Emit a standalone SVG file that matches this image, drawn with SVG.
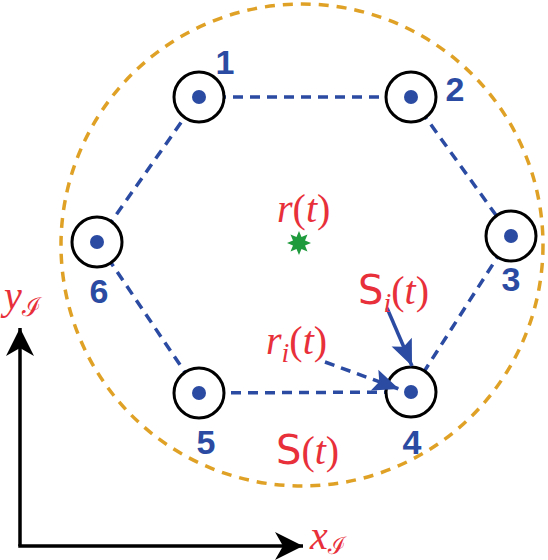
<svg xmlns="http://www.w3.org/2000/svg" width="548" height="560" viewBox="0 0 548 560">
<style>
.num{font-family:"Liberation Sans",Arial,sans-serif;font-weight:bold;font-size:34px;fill:#2b4ba3;text-anchor:middle}
.math{font-family:"Liberation Serif","Times New Roman",serif;font-size:40px;fill:#e8303a}
.it{font-style:italic}
.sf{font-family:"DejaVu Sans","Liberation Sans",sans-serif;font-style:normal}
.cal{font-family:"DejaVu Serif","Liberation Serif",serif;font-style:normal}
.node circle.ring{fill:#fff;stroke:#000;stroke-width:3}
.node circle.dot{fill:#2b4ba3}
.edge{stroke:#2b4ba3;stroke-width:3.5;stroke-dasharray:10 7;fill:none}
.axis{stroke:#000;stroke-width:3.5;fill:none}
</style>
<defs>
<marker id="ax" markerUnits="userSpaceOnUse" viewBox="-30 -15 32 30" markerWidth="32" markerHeight="30" refX="0" refY="0" orient="auto">
<path d="M0,0 L-28,-14 L-20,0 L-28,14 Z" fill="#000"/>
</marker>
<marker id="bl" markerUnits="userSpaceOnUse" viewBox="-28 -13 30 26" markerWidth="30" markerHeight="26" refX="0" refY="0" orient="auto">
<path d="M0,0 L-26,-11 L-21,0 L-26,11 Z" fill="#2b4ba3"/>
</marker>
</defs>
<rect width="548" height="560" fill="#fff"/>
<circle id="boundary" cx="302" cy="245" r="241" fill="none" stroke="#e0a226" stroke-width="3.5" stroke-dasharray="10 8"/>
<g id="connectors">
<line class="edge" x1="199" y1="97" x2="411" y2="97"/>
<line class="edge" x1="411" y1="97" x2="511" y2="236"/>
<line class="edge" x1="511" y1="236" x2="411" y2="392"/>
<line class="edge" x1="411" y1="392" x2="199" y2="393"/>
<line class="edge" x1="199" y1="393" x2="97" y2="242"/>
<line class="edge" x1="97" y1="242" x2="199" y2="97"/>
</g>
<g id="node1" class="node"><circle class="ring" cx="199" cy="97" r="25"/><circle class="dot" cx="199" cy="97" r="7"/><text class="num" x="225" y="74">1</text></g>
<g id="node2" class="node"><circle class="ring" cx="411" cy="97" r="25"/><circle class="dot" cx="411" cy="97" r="7"/><text class="num" x="455" y="101">2</text></g>
<g id="node3" class="node"><circle class="ring" cx="511" cy="236" r="25"/><circle class="dot" cx="511" cy="236" r="7"/><text class="num" x="511" y="291">3</text></g>
<g id="node4" class="node"><circle class="ring" cx="411" cy="392" r="25"/><circle class="dot" cx="411" cy="392" r="7"/><text class="num" x="412" y="454">4</text></g>
<g id="node5" class="node"><circle class="ring" cx="199" cy="393" r="25"/><circle class="dot" cx="199" cy="393" r="7"/><text class="num" x="206" y="454">5</text></g>
<g id="node6" class="node"><circle class="ring" cx="97" cy="242" r="25"/><circle class="dot" cx="97" cy="242" r="7"/><text class="num" x="99" y="303">6</text></g>
<g id="centroid">
<polygon fill="#1f9a3c" points="311,243 305,245.49 307.49,251.49 301.49,249 299,255 296.51,249 290.51,251.49 293,245.49 287,243 293,240.51 290.51,234.51 296.51,237 299,231 301.49,237 307.49,234.51 305,240.51"/>
<text class="math" x="277" y="222"><tspan class="it">r</tspan>(<tspan class="it">t</tspan>)</text>
</g>
<g id="arrows">
<line x1="387" y1="308" x2="412" y2="366" stroke="#2b4ba3" stroke-width="3.5" marker-end="url(#bl)"/>
<line x1="325" y1="362" x2="399" y2="389" stroke="#2b4ba3" stroke-width="3.5" stroke-dasharray="10 7" marker-end="url(#bl)"/>
</g>
<text class="math" x="358" y="304"><tspan class="sf">S</tspan><tspan class="it" font-size="28" dy="8">i</tspan><tspan dy="-8">(</tspan><tspan class="it">t</tspan>)</text>
<text class="math" x="266" y="354"><tspan class="it">r</tspan><tspan class="it" font-size="28" dy="8">i</tspan><tspan dy="-8">(</tspan><tspan class="it">t</tspan>)</text>
<text class="math" x="276" y="464"><tspan class="sf">S</tspan>(<tspan class="it">t</tspan>)</text>
<g id="axes">
<line class="axis" x1="20" y1="546" x2="20" y2="328" marker-end="url(#ax)"/>
<line class="axis" x1="18.25" y1="546" x2="303" y2="546" marker-end="url(#ax)"/>
<text class="math" x="4" y="309"><tspan class="it">y</tspan><tspan class="cal" font-size="26" dy="7">ℐ</tspan></text>
<text class="math" x="310" y="549"><tspan class="it">x</tspan><tspan class="cal" font-size="24" dy="5">ℐ</tspan></text>
</g>
</svg>
